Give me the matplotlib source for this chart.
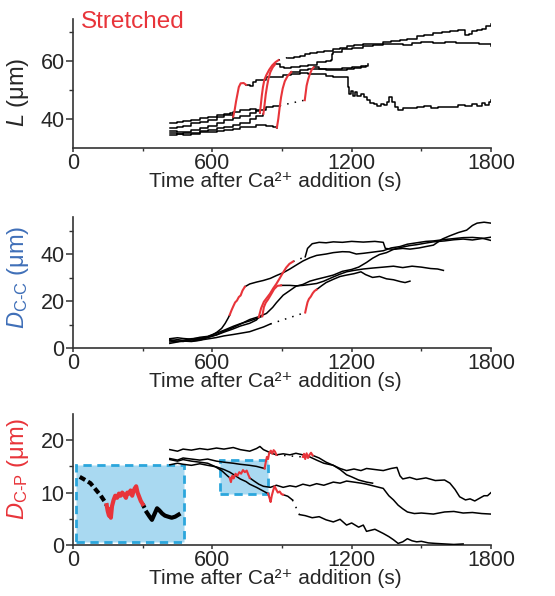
import matplotlib.pyplot as plt
from matplotlib.patches import Rectangle

plt.rcParams['font.family'] = ['Liberation Sans', 'DejaVu Sans']
plt.rcParams['mathtext.fontset'] = 'custom'
plt.rcParams['mathtext.rm'] = 'Liberation Sans'
plt.rcParams['mathtext.it'] = 'Liberation Sans:italic'

RED = '#e8343a'
BLUE = '#3f6fb8'
TXT = '#262626'

# ---- panel 1: filament length L (um) vs time (s) ----
LA_pre = [(417, 38.6), (450, 38.8), (474, 39.3), (510, 39.6), (546, 40.2), (580, 40.6), (618, 41.3),
          (650, 41.8), (675, 42.0), (690, 40.8)]
LA_red = [(690, 40.8), (696, 43), (702, 46), (708, 48.5), (714, 51), (722, 52.3), (735, 52.4), (745, 51.8)]
LA_post = [(745, 51.8), (761, 51.5), (775, 52.8), (790, 53.4), (810, 53.6), (833, 54.6), (860, 54.6),
           (905, 55.0), (940, 55.4), (977, 55.8), (1010, 55.6), (1049, 55.4), (1090, 54.8), (1121, 54.6),
           (1160, 54.6), (1178, 54.4), (1183, 51), (1188, 48.5), (1196, 49.5), (1205, 48), (1215, 49.3),
           (1225, 47.8), (1240, 48.6), (1255, 47.5), (1264, 46.5), (1280, 45.6), (1295, 45.2), (1310, 44.5),
           (1325, 45.2), (1340, 44.8), (1352, 46), (1362, 47.5), (1372, 46), (1385, 44.2), (1400, 43.2),
           (1420, 43.8), (1450, 43.9), (1480, 44.2), (1510, 44.6), (1540, 43.8), (1570, 44.2), (1600, 44),
           (1630, 44.3), (1660, 44.9), (1690, 44.6), (1720, 45.3), (1740, 44.4), (1760, 45.6), (1775, 44.8),
           (1790, 46), (1800, 46.4)]

LB_pre = [(417, 36.8), (450, 37.2), (474, 37.6), (510, 38.5), (546, 39), (580, 39.8), (618, 40.6),
          (650, 41.5), (690, 42.5), (720, 43), (761, 43.4), (790, 42.8), (805, 42.2)]
LB_red = [(805, 42.2), (809, 45), (813, 48), (818, 51), (824, 53.5), (833, 55.2), (845, 57), (858, 58.5),
          (872, 59.6), (885, 60.3)]
LB_post = [(925, 61.2), (950, 61.5), (977, 61.8), (1000, 62.4), (1020, 62.8), (1049, 63.2), (1080, 63.6),
           (1121, 64.2), (1150, 64.6), (1178, 65), (1210, 65.4), (1250, 65.8), (1290, 66), (1336, 66.4),
           (1370, 66.8), (1408, 67.4), (1440, 67.6), (1480, 68.6), (1510, 69), (1552, 69.6), (1590, 70),
           (1623, 70.4), (1660, 70.6), (1685, 70.6), (1690, 69), (1705, 69.2), (1720, 70.2), (1740, 70.8),
           (1760, 71.2), (1780, 72), (1800, 72.9)]

LC_pre = [(417, 35.2), (450, 34.8), (474, 35.3), (510, 35), (546, 35.8), (580, 36.2), (618, 37),
          (650, 37.3), (690, 37.8), (720, 38.6), (761, 40), (790, 41), (820, 41.8)]
LC_red = [(820, 41.8), (825, 45), (830, 48.5), (836, 51.5), (842, 54), (850, 56.2), (860, 57.8), (870, 58.8)]
LC_post = [(870, 58.8), (890, 58), (910, 57.6), (940, 57.8), (977, 58.2), (1010, 58.6), (1049, 59.5),
           (1090, 60), (1110, 60.5), (1115, 62.5), (1121, 63), (1160, 64), (1200, 64.6), (1250, 65.2),
           (1290, 65.6), (1336, 65.9), (1380, 66), (1420, 65.6), (1460, 66.3), (1500, 66.6), (1552, 66.3),
           (1600, 66.4), (1650, 66.2), (1700, 66.2), (1750, 65.8), (1780, 65.7), (1800, 65.3)]

LD_pre = [(417, 34.4), (450, 34.8), (474, 34.4), (510, 34.8), (546, 35.4), (580, 35.6), (618, 35.8),
          (650, 36.2), (690, 36.6), (720, 37.2), (761, 37.4), (790, 37.8), (833, 37.6), (862, 37.3), (878, 37)]
LD_red = [(878, 37), (884, 40), (890, 44), (896, 47.5), (903, 50.5), (912, 53), (924, 54.8), (940, 56.2)]
LD_post = [(940, 56.2), (977, 56.8), (1010, 57.2), (1049, 57.4), (1090, 57.2), (1121, 57.4), (1160, 57.6),
           (1200, 57.8), (1240, 58.3), (1271, 58.8)]

LE_pre = [(417, 35.8), (450, 35.4), (474, 35.6), (510, 36.2), (546, 36.8), (580, 37.6), (618, 38.6),
          (650, 39.6), (690, 40.4), (720, 41.2), (761, 42.2), (790, 43), (833, 44), (862, 44.4), (890, 44.6)]
LE_red = [(998, 46.5), (1002, 49), (1006, 51.5), (1012, 53.5), (1020, 55.5), (1028, 57), (1036, 57.8)]
LE_post = [(1036, 57.8), (1060, 57.4), (1090, 56.8), (1121, 56.8), (1150, 57), (1178, 57.3), (1210, 57.5),
           (1240, 57.8), (1260, 58.3)]

# ---- panel 2: D C-C (um) ----
DA_pre = [(417, 3.2), (450, 3.6), (474, 3.3), (510, 4), (546, 4.2), (580, 4.8), (600, 5.6), (620, 6.8),
          (640, 8.4), (655, 10.5), (668, 12.8), (675, 14.2)]
DA_red = [(675, 14.2), (682, 16), (690, 17.8), (698, 19.5), (706, 20.3), (714, 21.8), (722, 22.5),
          (730, 24.6), (740, 26.2)]
DA_post = [(740, 26.2), (761, 27.4), (790, 28.2), (820, 28.9), (850, 29.8), (876, 31), (905, 32.2),
           (934, 33.8), (960, 35.4), (990, 37.2), (1020, 38.6), (1049, 39.6), (1090, 40.2), (1121, 40.8),
           (1160, 41.2), (1190, 41.1), (1220, 40.2), (1250, 40.5), (1290, 41), (1336, 41.6), (1370, 42.8),
           (1408, 43.4), (1440, 44.4), (1480, 45), (1520, 45.6), (1552, 45.8), (1600, 46.4), (1640, 46.8),
           (1680, 47.2), (1720, 47.3), (1760, 47.0), (1800, 46.0)]

DB_pre = [(417, 2.6), (450, 3), (474, 2.8), (510, 3.5), (546, 3.8), (580, 4.6), (618, 5.6), (650, 6.8),
          (690, 8.2), (720, 9.4), (761, 10.6), (790, 12), (800, 13.2)]
DB_red = [(800, 13.2), (810, 17), (822, 19.8), (835, 21.5), (848, 23.2), (862, 25.5), (876, 27.5),
          (890, 29.8), (904, 32.2), (918, 34.4), (932, 36), (948, 37)]
DB_post = [(1000, 39), (1010, 42.6), (1030, 44.6), (1060, 45.2), (1090, 45), (1121, 45.4), (1160, 45.2),
           (1200, 45.6), (1250, 45.3), (1300, 45.6), (1336, 45.2), (1345, 42.6), (1380, 42.2), (1420, 42.6),
           (1451, 42.3), (1490, 42.8), (1520, 43.4), (1552, 44), (1590, 46.6), (1623, 48), (1660, 49.4),
           (1695, 50.4), (1720, 52.4), (1740, 53.4), (1770, 53.8), (1800, 53.4)]

DC_pre = [(417, 4), (450, 4.4), (474, 4.1), (510, 3.8), (546, 4.6), (580, 5), (618, 6.4), (650, 7.6),
          (690, 9.3), (720, 10.4), (761, 11.6), (790, 12.6), (815, 13.6)]
DC_red = [(815, 13.6), (822, 17.5), (830, 19.4), (840, 20.8), (852, 22.8), (866, 25.2), (880, 26.6),
          (896, 26.8)]
DC_post = [(896, 26.8), (934, 26.8), (960, 26.6), (990, 26.8), (1020, 27.2), (1049, 27.6), (1080, 28.6),
           (1121, 30.4), (1150, 31.6), (1178, 32.6), (1210, 33.2), (1250, 33.8), (1290, 34.2), (1336, 34.6),
           (1380, 35), (1420, 34.4), (1460, 35), (1500, 34.6), (1540, 34), (1570, 33.8), (1595, 33.2)]

DD_pre = [(417, 3.6), (450, 2.8), (474, 3.2), (510, 3), (546, 3.4), (580, 3.9), (618, 4.5), (650, 5.2),
          (690, 5.8), (720, 6.3), (761, 7), (790, 8), (820, 9), (850, 10.3)]
DD_red = [(1000, 15.2), (1005, 17.5), (1010, 19.6), (1016, 21), (1024, 22), (1032, 23.4), (1040, 24.4),
          (1049, 25)]
DD_post = [(1049, 25), (1070, 26.6), (1090, 28), (1121, 29.4), (1150, 30.6), (1178, 31.2), (1210, 31.8),
           (1240, 32.6), (1260, 31.4), (1290, 30.2), (1320, 30.6), (1350, 29.6), (1380, 29.2), (1410, 28.4),
           (1430, 28), (1451, 28.6)]

DE_all = [(417, 2), (450, 2.6), (474, 3), (510, 2.8), (546, 3.3), (580, 4.5), (618, 5.7), (650, 7.2),
          (690, 8.8), (720, 10.2), (761, 12.2), (800, 13.4), (833, 14.8), (860, 17.4), (876, 19.4),
          (905, 22.6), (934, 24.6), (960, 26.4), (990, 27.2), (1020, 28.6), (1049, 29.4), (1090, 30.4),
          (1121, 31.2), (1160, 32.8), (1200, 33.6), (1230, 34.6), (1264, 36.6), (1290, 38.4), (1320, 40),
          (1350, 40.8), (1380, 42.2), (1410, 43), (1450, 43.8), (1480, 44.2), (1520, 44.9), (1552, 45.4),
          (1600, 45.8), (1640, 46.3), (1680, 46.6), (1720, 46.2), (1760, 46.8), (1800, 47.4)]

# ---- panel 3: D C-P (um) ----
E0_pre = [(29, 13), (45, 12.6), (60, 12.2), (75, 11.8), (90, 11), (105, 10.2), (120, 9.4), (135, 8.4),
          (145, 7.6)]
E0_red = [(145, 7.6), (150, 6.4), (155, 5.6), (160, 6.8), (163, 5.2), (168, 7.4), (175, 8.6), (182, 9.4),
          (190, 9), (198, 9.8), (205, 9.4), (212, 10), (220, 9.6), (228, 9), (234, 10), (242, 9.8),
          (248, 10.4), (255, 9.4), (260, 10.2), (266, 10.8), (272, 11.2), (278, 10), (285, 9.2),
          (292, 8.4), (300, 7.8)]
E0_post = [(318, 6.2), (330, 5.4), (340, 4.8), (350, 5.8), (362, 7), (372, 6.6), (384, 6), (396, 5.6),
           (410, 5.4), (425, 5.2), (440, 5.4), (455, 5.8)]

Q1_all = [(417, 18.2), (450, 17.9), (474, 18.3), (510, 18.1), (546, 18.4), (580, 18.2), (618, 18.5),
          (650, 18.3), (690, 18.6), (720, 18.2), (761, 17.9), (790, 18.4), (805, 18.8), (820, 18.2),
          (850, 17.6), (876, 17.2), (905, 17.4), (934, 17.2), (960, 17.5), (990, 17.2), (1020, 16.8),
          (1049, 16.2), (1080, 15.6), (1121, 15.2), (1150, 14.6), (1178, 14.2), (1210, 14.5), (1240, 14.2),
          (1264, 14.6), (1300, 14.4), (1336, 14.2), (1370, 14.6), (1395, 14.8), (1408, 13.2), (1420, 12.6),
          (1450, 12.9), (1480, 12.5), (1520, 12.8), (1560, 12.3), (1600, 12.4), (1623, 11.8), (1645, 10.6),
          (1665, 9.2), (1690, 8.6), (1710, 8.8), (1730, 8.4), (1750, 8.9), (1770, 9.4), (1785, 9.4),
          (1800, 10)]

Q3_pre = [(417, 15.3), (450, 15.6), (474, 15.4), (510, 15.2), (546, 15.5), (580, 15.2), (618, 14.9),
          (650, 14.4), (675, 13.9), (700, 13.2), (720, 12.6), (745, 12.1), (761, 11.6), (790, 11),
          (815, 10.4), (840, 9.8)]
Q3_red = [(840, 9.8), (846, 9), (851, 8.2), (856, 9.4), (862, 10.4), (868, 11.2), (875, 10.6), (882, 10),
          (890, 10.2), (898, 9.7), (905, 9.6)]
Q3_mid = [(905, 9.6), (925, 9.3), (945, 8.6)]
Q3_post = [(975, 5.8), (1000, 5.6), (1030, 5.2), (1060, 5.4), (1090, 4.8), (1121, 4.4), (1150, 4.9),
           (1178, 3.8), (1200, 4.2), (1230, 3.4), (1250, 3.8), (1264, 2.6), (1300, 3), (1336, 2.2),
           (1360, 1.6), (1380, 1.0), (1400, 0.3), (1420, 0.6), (1440, 1.2), (1460, 0.8), (1480, 0.6),
           (1500, 0.7), (1530, 0.4), (1560, 0.3), (1600, 0.2), (1640, 0.1), (1680, 0.2)]

Q4_pre = [(417, 16.3), (450, 16), (474, 16.3), (510, 16.0), (546, 15.8), (580, 15.6), (610, 15),
          (640, 14.2), (660, 13.4), (675, 12.8)]
Q4_red = [(675, 12.8), (680, 12), (686, 13.2), (692, 12.7), (700, 13.6), (708, 13.2), (716, 13.9),
          (724, 13.6), (732, 14.3), (740, 13.9), (748, 14.2), (755, 13.4), (761, 12.8)]
Q4_post = [(761, 12.8), (780, 12.2), (800, 11.6), (820, 11.2), (850, 11), (876, 11.4), (905, 11),
           (934, 11.3), (960, 11.1), (990, 11.6), (1020, 11.3), (1049, 11.7), (1080, 11.4), (1121, 12),
           (1150, 11.8), (1178, 12.2), (1210, 12), (1240, 11.8), (1264, 11.6), (1300, 11.2), (1336, 10.8),
           (1360, 9.4), (1380, 8.6), (1400, 7.6), (1420, 6.9), (1440, 6.3), (1470, 6), (1500, 6.1),
           (1552, 5.9), (1600, 6.3), (1640, 6.4), (1680, 6.1), (1720, 6.2), (1760, 6.0), (1800, 5.9)]

Q5_pre = [(417, 16.5), (450, 16.2), (474, 16.6), (510, 16.4), (546, 16.2), (580, 16.4), (618, 16.0),
          (650, 15.8), (690, 15.6), (720, 15.4), (761, 15.2), (790, 15), (825, 14.6)]
Q5_red1 = [(825, 14.6), (830, 15.8), (835, 16.8), (840, 16.4), (845, 17.6), (852, 18), (858, 17.4),
           (864, 18.1), (870, 17.8), (876, 17.2)]
Q5_red2 = [(990, 16.8), (995, 17.4), (1000, 16.4), (1006, 17.5), (1012, 16.6), (1018, 17.2), (1025, 17.6),
           (1032, 17.1)]
Q5_post = [(1032, 17.1), (1060, 16.6), (1090, 15.8), (1121, 15.2), (1150, 14.4), (1178, 13.4), (1200, 13),
           (1230, 12.4), (1264, 12), (1290, 11.8)]

# highlighted regions (t0, t1, y0, y1)
box1 = (14, 478, 0.6, 15.2)
box2 = (632, 840, 9.65, 16.3)


def line(ax, pts, color='k', lw=1.1, ls='-', steps=False, z=3):
    t = [p[0] for p in pts]
    v = [p[1] for p in pts]
    ax.plot(t, v, color=color, lw=lw, ls=ls, zorder=z,
            drawstyle='steps-post' if steps else 'default')


def gap(ax, a, b, lw=1.1):
    ax.plot([a[-1][0], b[0][0]], [a[-1][1], b[0][1]], color='k', lw=lw, ls=(0, (1, 4)), zorder=3)


def trace(ax, pre, red, post, lw=1.1, steps=False):
    line(ax, pre, lw=lw, steps=steps)
    if post:
        line(ax, post, lw=lw, steps=steps)
    line(ax, red, color=RED, lw=1.5, z=4)


def style(ax, ylim, major, minor, ylabel, ycol, ly):
    ax.set_xlim(0, 1800)
    ax.set_ylim(*ylim)
    for s in ['top', 'right']:
        ax.spines[s].set_visible(False)
    for s in ['left', 'bottom']:
        ax.spines[s].set_linewidth(1.2)
        ax.spines[s].set_color('#333333')
    ax.set_xticks([0, 600, 1200, 1800])
    ax.set_xticks([300, 900, 1500], minor=True)
    ax.set_yticks(major)
    ax.set_yticks(minor, minor=True)
    ax.tick_params(axis='x', which='major', length=3, width=1.1, pad=0.5, labelsize=15.5, colors='#333333',
                   labelcolor=TXT)
    ax.tick_params(axis='x', which='minor', length=2, width=1.0, colors='#333333')
    ax.tick_params(axis='y', which='major', length=5, width=1.1, pad=1, labelsize=15.5, colors='#333333',
                   labelcolor=TXT)
    ax.tick_params(axis='y', which='minor', length=3, width=1.0, colors='#333333')
    ax.set_xlabel('Time after Ca²⁺ addition (s)', fontsize=15, color=TXT)
    ax.xaxis.set_label_coords(0.483, -0.185)
    ax.xaxis.label.set_va('top')
    ax.set_ylabel(ylabel, fontsize=17, color=ycol)
    ax.yaxis.set_label_coords(-0.1, ly)


fig = plt.figure(figsize=(5.55, 5.96), dpi=100)
ax1 = fig.add_axes([0.1315, 0.7517, 0.7532, 0.2165])
ax2 = fig.add_axes([0.1315, 0.416, 0.7532, 0.2198])
ax3 = fig.add_axes([0.1315, 0.0856, 0.7532, 0.2198])

# panel 1
trace(ax1, LA_pre, LA_red, LA_post, steps=True)
trace(ax1, LB_pre, LB_red, LB_post, steps=True)
gap(ax1, LB_red, LB_post)
trace(ax1, LC_pre, LC_red, LC_post, steps=True)
trace(ax1, LD_pre, LD_red, LD_post, steps=True)
trace(ax1, LE_pre, LE_red, LE_post, steps=True)
gap(ax1, LE_pre, LE_red)
style(ax1, (30, 74.5), [40, 60], [50, 70], '$L$ (μm)', TXT, 0.43)
ax1.text(0.02, 1.06, 'Stretched', transform=ax1.transAxes, color=RED, fontsize=17.5, va='top')

# panel 2
trace(ax2, DA_pre, DA_red, DA_post)
trace(ax2, DB_pre, DB_red, DB_post)
gap(ax2, DB_red, DB_post)
trace(ax2, DC_pre, DC_red, DC_post)
trace(ax2, DD_pre, DD_red, DD_post)
gap(ax2, DD_pre, DD_red)
line(ax2, DE_all)
style(ax2, (0, 56), [0, 20, 40], [10, 30, 50], r'$D_{\mathrm{C\text{-}C}}$ (μm)', BLUE, 0.54)

# panel 3
for b in (box1, box2):
    ax3.add_patch(Rectangle((b[0], b[2]), b[1] - b[0], b[3] - b[2], facecolor='#a9d9f1',
                            edgecolor='#2ba6dc', lw=2, ls=(0, (3, 2)), zorder=1))
line(ax3, E0_pre, lw=3, ls=(0, (1.5, 0.8)))
line(ax3, E0_red, color=RED, lw=3, z=4)
line(ax3, E0_post, lw=3)
gap(ax3, E0_red, E0_post, lw=3)
line(ax3, Q1_all)
trace(ax3, Q3_pre, Q3_red, Q3_post)
line(ax3, Q3_mid)
gap(ax3, Q3_mid, Q3_post)
trace(ax3, Q4_pre, Q4_red, Q4_post)
trace(ax3, Q5_pre, Q5_red1, Q5_post)
line(ax3, Q5_red2, color=RED, lw=1.5, z=4)
gap(ax3, Q5_red1, Q5_red2)
style(ax3, (0, 25), [0, 10, 20], [5, 15], r'$D_{\mathrm{C\text{-}P}}$ (μm)', RED, 0.58)

fig.savefig('out.png', dpi=100)
